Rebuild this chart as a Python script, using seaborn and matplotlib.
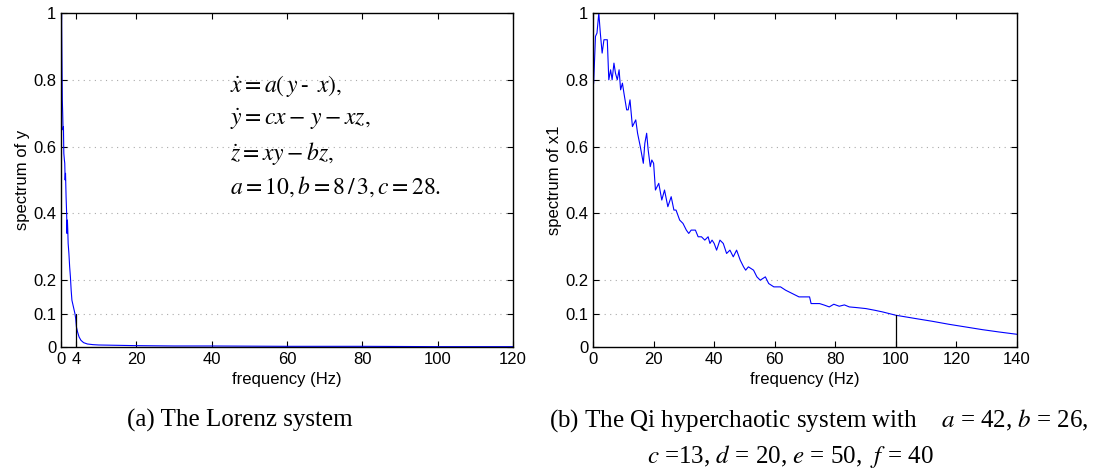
import numpy as np
import pandas as pd
import seaborn as sns
import matplotlib.pyplot as plt

# Lorenz system: spectrum of y
lorenz_freq = [0.0, 0.15, 0.25, 0.35, 0.45, 0.55, 0.65, 0.75, 0.9, 1.0, 1.1, 1.2, 1.35, 1.5,
               1.6, 1.7, 1.8, 1.9, 2.1, 2.3, 2.5, 2.7, 2.9, 3.1, 3.3, 3.5, 3.7, 3.9, 4.1,
               4.4, 4.8, 5.3, 6.0, 7.0, 8.5, 10, 15, 20, 30, 40, 60, 80, 100, 120]
lorenz_spec = [0.80, 1.0, 0.86, 0.74, 0.70, 0.65, 0.66, 0.58, 0.56, 0.55, 0.50, 0.52, 0.45, 0.40,
               0.34, 0.38, 0.35, 0.31, 0.28, 0.24, 0.21, 0.17, 0.14, 0.13, 0.12, 0.11, 0.10, 0.085, 0.06,
               0.045, 0.03, 0.02, 0.013, 0.009, 0.007, 0.006, 0.005, 0.004, 0.003, 0.003, 0.002, 0.002, 0.001, 0.001]

# Qi hyperchaotic system: spectrum of x1
qi_freq = [0.0, 0.2, 0.8, 1.3, 1.9, 2.4, 3.0, 3.6, 4.1, 4.7, 5.2, 5.8, 6.3, 6.9, 7.4, 8.0, 8.6,
           9.1, 9.7, 10.2, 11.1, 11.6, 12.2, 13.0, 14.1, 14.7, 15.6, 16.6, 17.1, 17.7, 18.2, 18.9,
           19.4, 20.0, 20.6, 21.7, 22.7, 23.6, 24.7, 25.8, 26.7, 27.4, 28.6, 29.7, 30.8, 31.6,
           32.4, 33.8, 34.7, 35.8, 36.9, 38.0, 38.6, 39.3, 40.0, 40.8, 41.9, 43.0, 44.1, 45.2,
           46.3, 47.4, 48.6, 49.7, 50.4, 51.3, 53.0, 54.1, 55.2, 56.9, 58.0, 59.7, 61.9, 63.6,
           65.8, 68.0, 70.2, 71.5, 72.0, 74.8, 76.5, 78.0, 79.5, 81.3, 83.0, 84.6, 87.0, 90.1,
           93.0, 95.6, 100.0, 106.6, 112.0, 117.5, 123.0, 128.5, 134.0, 140.0]
qi_spec = [0.78, 0.79, 0.93, 0.94, 1.0, 0.94, 0.88, 0.92, 0.92, 0.92, 0.80, 0.83, 0.80, 0.85,
           0.82, 0.80, 0.83, 0.77, 0.79, 0.76, 0.71, 0.71, 0.74, 0.66, 0.68, 0.64, 0.60, 0.55,
           0.61, 0.64, 0.59, 0.54, 0.56, 0.55, 0.47, 0.49, 0.44, 0.47, 0.42, 0.45, 0.41, 0.41,
           0.38, 0.37, 0.35, 0.34, 0.35, 0.35, 0.33, 0.33, 0.32, 0.33, 0.31, 0.32, 0.31, 0.29,
           0.32, 0.31, 0.28, 0.29, 0.27, 0.29, 0.26, 0.24, 0.23, 0.24, 0.23, 0.21, 0.20, 0.21,
           0.19, 0.18, 0.18, 0.17, 0.16, 0.15, 0.15, 0.15, 0.13, 0.13, 0.125, 0.12, 0.128, 0.122,
           0.126, 0.12, 0.118, 0.115, 0.11, 0.105, 0.095, 0.085, 0.077, 0.068, 0.06, 0.052, 0.045, 0.038]

yticks = [0, 0.1, 0.2, 0.4, 0.6, 0.8, 1]
ytick_labels = ['0', '0.1', '0.2', '0.4', '0.6', '0.8', '1']

sns.set_style('ticks')
plt.rcParams['font.family'] = ['Liberation Sans', 'DejaVu Sans']
plt.rcParams['mathtext.fontset'] = 'stix'
plt.rcParams['text.color'] = 'black'
plt.rcParams['axes.labelcolor'] = 'black'
plt.rcParams['xtick.color'] = 'black'
plt.rcParams['ytick.color'] = 'black'

fig = plt.figure(figsize=(11.11, 4.75), dpi=100)
ax1 = fig.add_axes([0.0549, 0.2695, 0.4068, 0.7031])
ax2 = fig.add_axes([0.5338, 0.2695, 0.3816, 0.7031])

df1 = pd.DataFrame({'freq': lorenz_freq, 'spec': lorenz_spec})
df2 = pd.DataFrame({'freq': qi_freq, 'spec': qi_spec})

sns.lineplot(data=df1, x='freq', y='spec', ax=ax1, color='#0000ff', lw=0.8)
sns.lineplot(data=df2, x='freq', y='spec', ax=ax2, color='#0000ff', lw=0.8)

# marker lines
ax1.plot([4, 4], [0, 0.1], color='black', lw=0.9)
ax2.plot([100, 100], [0, 0.095], color='black', lw=0.9)

for ax, xmax, xticks, ylab in [(ax1, 120, [0, 4, 20, 40, 60, 80, 100, 120], 'spectrum of y'),
                               (ax2, 140, [0, 20, 40, 60, 80, 100, 120, 140], 'spectrum of x1')]:
    ax.set_xlim(0, xmax)
    ax.set_ylim(0, 1)
    ax.set_xticks(xticks)
    ax.set_yticks(yticks)
    ax.set_yticklabels(ytick_labels)
    ax.tick_params(direction='in', top=True, right=True, labelsize=12, length=4, width=0.8,
                   colors='black')
    ax.set_xlabel('frequency (Hz)', fontsize=12, labelpad=4, color='black')
    ax.set_ylabel(ylab, fontsize=12, labelpad=2, color='black')
    for y in yticks[1:-1]:
        ax.axhline(y, color='#aaaaaa', ls=(0, (1, 4)), lw=0.8, zorder=0)
    for s in ax.spines.values():
        s.set_linewidth(1.0)
        s.set_color('black')

# Lorenz equations
eq_lines = [r'$\dot{x} = a(\,y\,\text{-}\;\; x),$',
            r'$\dot{y} = cx - \,y - xz,$',
            r'$\dot{z} = xy - bz,$',
            r'$a = 10, b = 8\,/\,3, c = 28.$']
eq_y = [0.78, 0.68, 0.58, 0.48]
for t, y in zip(eq_lines, eq_y):
    ax1.text(45, y, t, fontsize=17, va='center', ha='left', color='black')

# captions
cap_font = dict(family=['Liberation Serif', 'DejaVu Serif'], fontsize=18, color='black')
fig.text(0.216, 0.114, '(a) The Lorenz system', ha='center', va='center', **cap_font)
fig.text(0.737, 0.114, r'(b) The Qi hyperchaotic system with    $a$ = 42, $b$ = 26,',
         ha='center', va='center', **cap_font)
fig.text(0.711, 0.038, r'$c$ =13, $d$ = 20, $e$ = 50,  $f$ = 40',
         ha='center', va='center', **cap_font)

plt.savefig('out.png', dpi=100)
